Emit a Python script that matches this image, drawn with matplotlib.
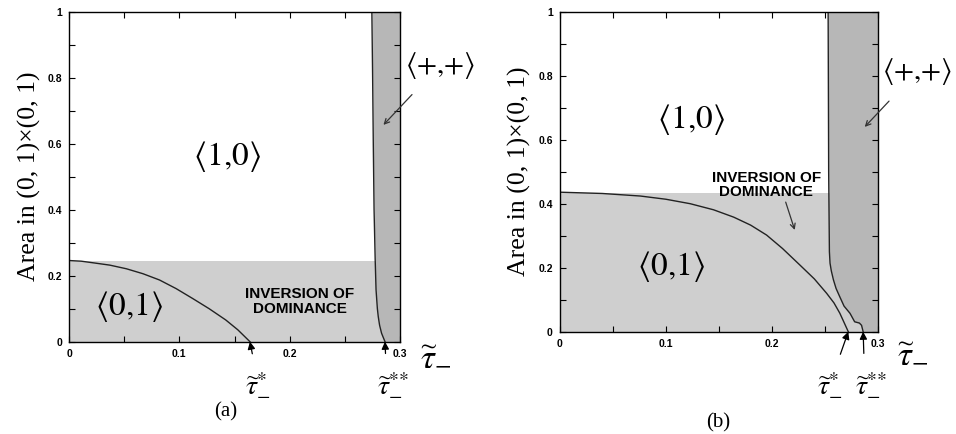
import numpy as np
import matplotlib
matplotlib.use("Agg")
import matplotlib.pyplot as plt
from matplotlib.ticker import MultipleLocator, FuncFormatter

plt.rcParams['mathtext.fontset'] = 'stix'
plt.rcParams['font.family'] = ['Liberation Serif', 'DejaVu Serif']

# ---- data ----
# panel (a): boundary of <0,1> region
curve_a_x = [0, 0.011, 0.022, 0.037, 0.052, 0.067, 0.082, 0.097, 0.112, 0.127, 0.142, 0.153, 0.164]
curve_a_y = [0.246, 0.244, 0.239, 0.232, 0.221, 0.206, 0.187, 0.161, 0.131, 0.100, 0.066, 0.036, 0.0]
# panel (a): left boundary of <+,+> strip
strip_a_y = [1.0, 0.8, 0.6, 0.4, 0.25, 0.157, 0.1, 0.076, 0.05, 0.0255, 0.0]
strip_a_x = [0.2745, 0.2752, 0.2758, 0.2765, 0.2775, 0.2783, 0.2795, 0.2803, 0.2815, 0.2833, 0.2864]
top_a = 0.246
tau_star_a, tau_2star_a = 0.164, 0.2864

# panel (b)
curve_b_x = [0, 0.04, 0.076, 0.1, 0.123, 0.145, 0.164, 0.18, 0.195, 0.21, 0.2265, 0.24, 0.2516, 0.2585, 0.264, 0.272]
curve_b_y = [0.436, 0.432, 0.424, 0.414, 0.400, 0.381, 0.358, 0.333, 0.302, 0.260, 0.208, 0.165, 0.120, 0.090, 0.058, 0.0]
strip_b_y = [1.0, 0.5, 0.25, 0.214, 0.19, 0.162, 0.135, 0.109, 0.08, 0.0575, 0.031, 0.027, 0.02, 0.0]
strip_b_x = [0.253, 0.2535, 0.2542, 0.2548, 0.256, 0.258, 0.2605, 0.264, 0.268, 0.2736, 0.278, 0.2825, 0.2845, 0.286]
top_b = 0.434
tau_star_b, tau_2star_b = 0.272, 0.286

light = '#cfcfcf'
dark = '#b7b7b7'

fig = plt.figure(figsize=(9.56, 4.34), dpi=100)
ax_a = fig.add_axes([0.0722, 0.2127, 0.3462, 0.7603])
ax_b = fig.add_axes([0.5855, 0.2357, 0.3329, 0.7373])


def style(ax, xlab_y):
    ax.set_xlim(0, 0.3)
    ax.set_ylim(0, 1)
    ax.xaxis.set_major_locator(MultipleLocator(0.1))
    ax.xaxis.set_minor_locator(MultipleLocator(0.05))
    ax.yaxis.set_major_locator(MultipleLocator(0.2))
    ax.yaxis.set_minor_locator(MultipleLocator(0.1))
    fmt = FuncFormatter(lambda v, p: '%g' % round(v, 2))
    ax.xaxis.set_major_formatter(fmt)
    ax.yaxis.set_major_formatter(fmt)
    ax.tick_params(which='both', direction='in', top=True, right=True,
                   length=4, width=0.8, pad=5)
    for lab in ax.get_xticklabels() + ax.get_yticklabels():
        lab.set_fontfamily(['Liberation Sans', 'DejaVu Sans'])
        lab.set_fontweight('bold')
        lab.set_fontsize(7.5)
    for s in ax.spines.values():
        s.set_linewidth(1.0)
    ax.set_ylabel('Area in (0, 1)×(0, 1)', fontsize=18.5, labelpad=5)
    ax.text(1.06, xlab_y, r'$\widetilde{\tau}_{-}$',
            transform=ax.transAxes, fontsize=25, ha='left', va='center')


def draw(ax, cx, cy, sx, sy, top):
    ax.fill_between([0, 0.3], 0, top, color=light, lw=0, zorder=0)
    ax.fill_betweenx(sy, sx, 0.3, color=dark, lw=0, zorder=1)
    ax.plot(cx, cy, color='#222222', lw=1.0, zorder=2)
    ax.plot(sx, sy, color='#222222', lw=1.0, zorder=2)


arrow = dict(arrowstyle='-|>', color='black', lw=0.9, mutation_scale=11, shrinkA=1, shrinkB=0)
thin = dict(arrowstyle='->', color='#333333', lw=0.9, mutation_scale=9, shrinkA=2, shrinkB=0)
box_font = dict(family=['Liberation Sans', 'DejaVu Sans'], weight='bold', size=11)
pp = r'$\langle{+}{,}{+}\rangle$'
t1 = r'$\widetilde{\tau}_{-}^{*}$'
t2 = r'$\widetilde{\tau}_{-}^{*\!*}$'

# ---- panel (a) ----
draw(ax_a, curve_a_x, curve_a_y, strip_a_x, strip_a_y, top_a)
style(ax_a, -0.045)
ax_a.text(0.143, 0.56, r'$\langle 1{,}0\rangle$', fontsize=24, ha='center', va='center')
ax_a.text(0.054, 0.106, r'$\langle 0{,}1\rangle$', fontsize=24, ha='center', va='center')
ax_a.text(0.209, 0.121, 'INVERSION OF\nDOMINANCE', ha='center', va='center',
          linespacing=1.05, **box_font)
ax_a.annotate(pp, xy=(0.285, 0.657), xytext=(0.336, 0.838),
              fontsize=21, ha='center', va='center', annotation_clip=False,
              arrowprops=dict(thin, shrinkA=11))
ax_a.annotate(t1, xy=(tau_star_a, 0), xytext=(0.1716, -0.13),
              fontsize=20, ha='center', va='center', annotation_clip=False,
              arrowprops=dict(arrow, shrinkA=11))
ax_a.annotate(t2, xy=(tau_2star_a, 0), xytext=(0.294, -0.13),
              fontsize=20, ha='center', va='center', annotation_clip=False,
              arrowprops=dict(arrow, shrinkA=11, relpos=(0.3, 0.5)))

# ---- panel (b) ----
draw(ax_b, curve_b_x, curve_b_y, strip_b_x, strip_b_y, top_b)
style(ax_b, -0.068)
ax_b.text(0.124, 0.662, r'$\langle 1{,}0\rangle$', fontsize=24, ha='center', va='center')
ax_b.text(0.105, 0.203, r'$\langle 0{,}1\rangle$', fontsize=24, ha='center', va='center')
ax_b.text(0.1947, 0.458, 'INVERSION OF\nDOMINANCE', ha='center', va='center',
          linespacing=1.05, **box_font)
ax_b.annotate('', xy=(0.2215, 0.318), xytext=(0.213, 0.405), annotation_clip=False,
              arrowprops=dict(thin, shrinkA=0))
ax_b.annotate(pp, xy=(0.2875, 0.64), xytext=(0.3365, 0.8125),
              fontsize=21, ha='center', va='center', annotation_clip=False,
              arrowprops=dict(thin, shrinkA=11))
ax_b.annotate(t1, xy=(tau_star_b, 0), xytext=(0.2545, -0.165),
              fontsize=20, ha='center', va='center', annotation_clip=False,
              arrowprops=dict(arrow, shrinkA=11))
ax_b.annotate(t2, xy=(tau_2star_b, 0), xytext=(0.2937, -0.165),
              fontsize=20, ha='center', va='center', annotation_clip=False,
              arrowprops=dict(arrow, shrinkA=11, relpos=(0.3, 0.5)))

fig.text(226 / 956, 1 - 412 / 434, '(a)', fontsize=15, ha='center', va='center')
fig.text(718 / 956, 1 - 423 / 434, '(b)', fontsize=15, ha='center', va='center')

fig.savefig('out.png', dpi=100)
